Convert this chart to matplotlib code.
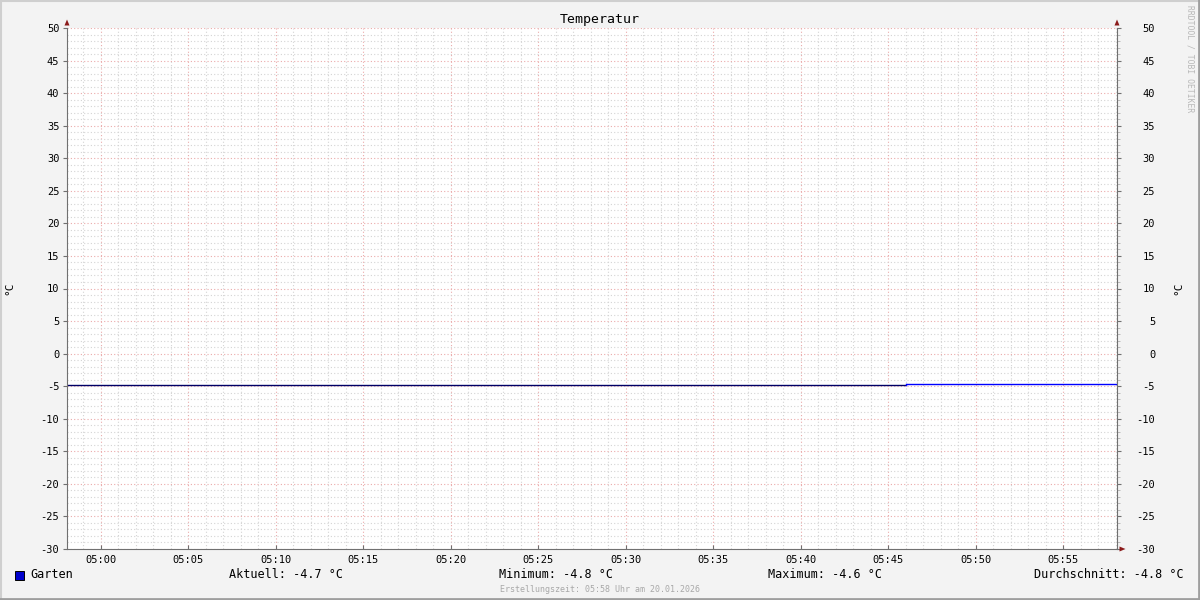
import matplotlib
matplotlib.use("Agg")
import matplotlib.pyplot as plt
import matplotlib.dates as mdates
from matplotlib.patches import Rectangle, Polygon
from matplotlib.lines import Line2D
from datetime import datetime

plt.rcParams["axes.unicode_minus"] = False

# ---- data ----
title = "Temperatur"
series_name = "Garten"
unit = "°C"
# step data (value holds until next time)
seg1_times = ["04:58:04", "05:46:00"]
seg1_values = [-4.8, -4.8]
seg2_times = ["05:46:00", "05:58:04"]
seg2_values = [-4.6, -4.6]
x_start = "04:58:04"
x_end = "05:58:04"
y_min, y_max = -30, 50
stat_labels = ["Aktuell: -4.7 °C", "Minimum: -4.8 °C", "Maximum: -4.6 °C", "Durchschnitt: -4.8 °C"]
footer = "Erstellungszeit: 05:58 Uhr am 20.01.2026"
watermark = "RRDTOOL / TOBI OETIKER"

day = "2026-01-20 "
def t(s):
    return datetime.strptime(day + s, "%Y-%m-%d %H:%M:%S")

W, H = 1200, 600
fig = plt.figure(figsize=(12, 6), dpi=100, facecolor="#F3F3F3")
mono = "DejaVu Sans Mono"

# frame border
fig.add_artist(Line2D([0.5/W, 0.5/W], [0, 1], transform=fig.transFigure, color="#CFCFCF", lw=1.5))
fig.add_artist(Line2D([0, 1], [1 - 0.5/H, 1 - 0.5/H], transform=fig.transFigure, color="#CFCFCF", lw=1.5))
fig.add_artist(Line2D([1 - 1/W, 1 - 1/W], [0, 1], transform=fig.transFigure, color="#9E9E9E", lw=2))
fig.add_artist(Line2D([0, 1], [1/H, 1/H], transform=fig.transFigure, color="#9E9E9E", lw=2))

L, R, T, B = 67, 1117, 28, 549
ax = fig.add_axes([L / W, 1 - B / H, (R - L) / W, (B - T) / H])
ax.set_facecolor("white")
ax.set_xlim(t(x_start), t(x_end))
ax.set_ylim(y_min, y_max)

# grid
ax.xaxis.set_major_locator(mdates.MinuteLocator(byminute=range(0, 60, 5)))
ax.xaxis.set_minor_locator(mdates.MinuteLocator())
ax.xaxis.set_major_formatter(mdates.DateFormatter("%H:%M"))
ax.yaxis.set_major_locator(plt.MultipleLocator(5))
ax.yaxis.set_minor_locator(plt.MultipleLocator(1))
ax.grid(which="minor", color="#D4D4D4", linestyle=(0, (1, 2)), lw=0.8)
ax.grid(which="major", color="#EBAAAA", linestyle=(0, (1, 2)), lw=0.8)
ax.set_axisbelow(True)

for s in ["top", "right"]:
    ax.spines[s].set_visible(False)
ax.spines["left"].set_color("#707070")
ax.spines["bottom"].set_color("#707070")

ax.tick_params(axis="both", which="major", length=3, color="#707070", labelsize=7.5)
ax.tick_params(axis="both", which="minor", length=0)
ax.tick_params(axis="y", which="major", direction="out", pad=2.5)
ax.tick_params(axis="x", which="major", direction="in", length=3, pad=4)
for lab in ax.get_xticklabels() + ax.get_yticklabels():
    lab.set_fontfamily(mono)

# right axis
ax2 = ax.twinx()
ax2.set_ylim(y_min, y_max)
ax2.yaxis.set_major_locator(plt.MultipleLocator(5))
ax2.yaxis.set_minor_locator(plt.MultipleLocator(1))
for s in ["top", "left", "bottom"]:
    ax2.spines[s].set_visible(False)
ax2.spines["right"].set_color("#707070")
ax2.tick_params(axis="y", which="major", length=3, color="#707070", labelsize=7.5, pad=24.5, direction="out")
ax2.tick_params(axis="y", which="minor", length=2, color="#B0B0B0", direction="out")
for lab in ax2.get_yticklabels():
    lab.set_fontfamily(mono)
    lab.set_horizontalalignment("right")

# unit labels
fig.text(9 / W, 1 - 288 / H, unit, rotation=90, ha="center", va="center", family=mono, fontsize=8)
fig.text(1178 / W, 1 - 288 / H, unit, rotation=90, ha="center", va="center", family=mono, fontsize=8)

# data lines
ax.plot([t(s) for s in seg1_times], seg1_values, color="#000066", lw=1.0, solid_capstyle="butt")
ax.plot([t(s) for s in seg2_times], seg2_values, color="#0000FF", lw=1.0, solid_capstyle="butt")
ax.plot([t(seg1_times[-1]), t(seg2_times[0])], [seg1_values[-1], seg2_values[0]], color="#0000FF", lw=1.0)

# arrows
def arrow_px(pts):
    fig.add_artist(Polygon([(x / W, 1 - y / H) for x, y in pts], closed=True,
                           transform=fig.transFigure, color="#8B1A1A", lw=0))
arrow_px([(64.5, 25.5), (69.5, 25.5), (67, 19.5)])
arrow_px([(1114.5, 25.5), (1119.5, 25.5), (1117, 19.5)])
arrow_px([(1119.5, 546.5), (1119.5, 551.5), (1125.5, 549)])

# title
fig.text(600 / W, 1 - 19 / H, title, ha="center", va="center", family=mono, fontsize=9.5)

# watermark
fig.text(1190 / W, 1 - 59 / H, watermark, ha="center", va="center", rotation=-90,
         family=mono, fontsize=5.8, color="#B8B8B8")

# legend
fig.add_artist(Rectangle((15 / W, 1 - 580 / H), 9 / W, 9 / H, transform=fig.transFigure,
                         facecolor="#0000CC", edgecolor="black", lw=0.7))
fig.text(30 / W, 1 - 575 / H, series_name, ha="left", va="center", family=mono, fontsize=8.5)
stat_x = [(229, "left"), (499, "left"), (768, "left"), (1184, "right")]
for (x, ha), s in zip(stat_x, stat_labels):
    fig.text(x / W, 1 - 575 / H, s, ha=ha, va="center", family=mono, fontsize=8.5)

fig.text(600 / W, 1 - 589 / H, footer, ha="center", va="center", family=mono, fontsize=6, color="#A8A8A8")

fig.savefig("out.png", dpi=100, facecolor=fig.get_facecolor())
